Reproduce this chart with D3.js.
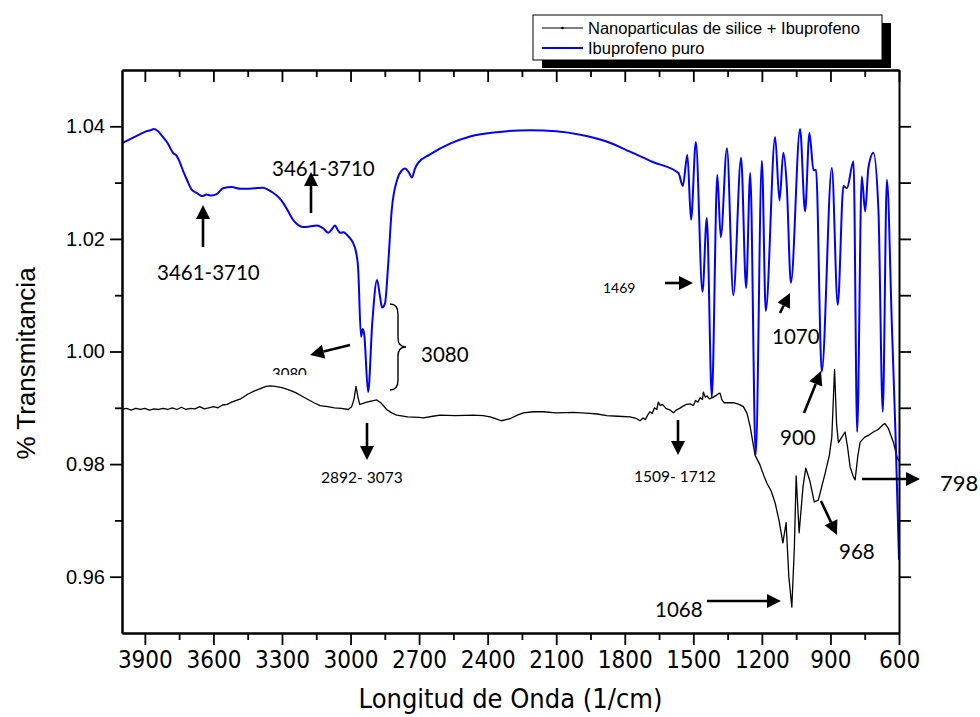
<!DOCTYPE html>
<html>
<head>
<meta charset="utf-8">
<script src="https://cdn.jsdelivr.net/npm/d3@7"></script>
<style>
  body { margin: 0; background: #fff; }
  svg { display: block; }
</style>
</head>
<body>
<svg id="chart" width="980" height="717"></svg>
<script>
// FTIR spectra: [wavenumber (1/cm), transmittance]
const blueSpectrum = [
  [4000,1.0370],[3960,1.0378],[3920,1.0386],[3895,1.0391],[3875,1.0393],[3860,1.0395],[3845,1.0392],
  [3821,1.0381],[3800,1.0370],[3777,1.0353],[3760,1.0347],[3746,1.0335],[3730,1.0318],[3716,1.0305],
  [3694,1.0287],[3670,1.0281],[3650,1.0276],[3630,1.0279],[3610,1.0277],[3584,1.0280],[3558,1.0290],
  [3520,1.0292],[3480,1.0289],[3453,1.0289],[3420,1.0290],[3383,1.0291],[3360,1.0287],[3339,1.0282],
  [3310,1.0272],[3295,1.0264],[3270,1.0247],[3252,1.0234],[3230,1.0225],[3208,1.0221],[3180,1.0222],
  [3147,1.0224],[3120,1.0219],[3098,1.0211],[3080,1.0218],[3068,1.0224],[3055,1.0215],[3046,1.0211],
  [3030,1.0212],[3015,1.0207],[3000,1.0200],[2989,1.0193],[2975,1.0175],[2967,1.0150],[2954,1.0026],
  [2947,1.0040],[2940,1.0030],[2923,0.9928],[2905,1.0050],[2884,1.0127],[2870,1.0095],[2862,1.0078],
  [2849,1.0086],[2836,1.0150],[2820,1.0250],[2796,1.0305],[2775,1.0322],[2761,1.0325],[2745,1.0318],
  [2731,1.0309],[2718,1.0325],[2704,1.0335],[2652,1.0350],[2560,1.0370],[2477,1.0382],[2350,1.0390],
  [2214,1.0393],[2100,1.0391],[1995,1.0385],[1880,1.0373],[1777,1.0355],[1680,1.0337],[1565,1.0317],
  [1546,1.0294],[1526,1.0349],[1510,1.0234],[1489,1.0372],[1460,1.0106],[1441,1.0237],[1419,0.9919],
  [1395,1.0314],[1380,1.0203],[1353,1.0361],[1325,1.0100],[1291,1.0344],[1269,1.0113],[1251,1.0317],
  [1227,0.9816],[1200,1.0339],[1183,1.0072],[1142,1.0381],[1123,1.0268],[1106,1.0353],[1091,1.0294],
  [1073,1.0122],[1033,1.0395],[1011,1.0249],[992,1.0388],[974,1.0322],[963,1.0323],[938,0.9964],
  [894,1.0326],[868,1.0083],[843,1.0294],[828,1.0290],[799,1.0338],[783,0.9857],[763,1.0311],
  [748,1.0249],[734,1.0326],[712,1.0353],[690,1.0251],[671,0.9893],[653,1.0305],[631,1.0044],
  [615,0.9850],[600,0.9630]
];

const blackSpectrum = [
  [4000,0.9897],[3980,0.9899],[3960,0.9896],[3940,0.9899],[3920,0.9897],[3900,0.9899],[3880,0.9896],
  [3860,0.9898],[3840,0.9897],[3820,0.9899],[3800,0.9897],[3780,0.9900],[3760,0.9897],[3740,0.9901],
  [3720,0.9897],[3700,0.9899],[3680,0.9898],[3660,0.9902],[3640,0.9898],[3620,0.9900],[3600,0.9902],
  [3580,0.9900],[3560,0.9905],[3540,0.9906],[3520,0.9910],[3500,0.9913],[3480,0.9916],[3450,0.9924],
  [3420,0.9930],[3400,0.9933],[3370,0.9938],[3352,0.9939],[3330,0.9938],[3300,0.9936],[3270,0.9932],
  [3240,0.9927],[3210,0.9920],[3192,0.9916],[3160,0.9909],[3133,0.9904],[3100,0.9902],[3070,0.9900],
  [3040,0.9899],[3010,0.9897],[2995,0.9902],[2985,0.9915],[2976,0.9938],[2968,0.9920],[2960,0.9906],
  [2945,0.9908],[2929,0.9910],[2910,0.9912],[2885,0.9914],[2865,0.9908],[2842,0.9897],[2820,0.9891],
  [2798,0.9887],[2750,0.9884],[2700,0.9883],[2681,0.9882],[2640,0.9885],[2608,0.9887],[2540,0.9886],
  [2462,0.9887],[2420,0.9886],[2389,0.9884],[2360,0.9880],[2340,0.9877],[2320,0.9879],[2300,0.9881],
  [2270,0.9887],[2244,0.9891],[2200,0.9893],[2156,0.9893],[2100,0.9891],[2025,0.9892],[1990,0.9891],
  [1952,0.9890],[1920,0.9889],[1879,0.9886],[1830,0.9885],[1777,0.9884],[1750,0.9881],[1733,0.9877],
  [1720,0.9882],[1710,0.9879],[1700,0.9887],[1690,0.9893],[1680,0.9890],[1670,0.9900],[1660,0.9897],
  [1653,0.9910],[1645,0.9904],[1635,0.9906],[1620,0.9899],[1602,0.9896],[1587,0.9891],[1575,0.9896],
  [1560,0.9899],[1545,0.9903],[1530,0.9906],[1514,0.9907],[1500,0.9904],[1490,0.9913],[1480,0.9910],
  [1470,0.9918],[1460,0.9915],[1456,0.9928],[1448,0.9919],[1440,0.9921],[1430,0.9916],[1412,0.9919],
  [1400,0.9922],[1390,0.9925],[1383,0.9926],[1375,0.9914],[1365,0.9909],[1353,0.9909],[1325,0.9909],
  [1300,0.9906],[1281,0.9902],[1265,0.9890],[1251,0.9866],[1230,0.9816],[1210,0.9800],[1190,0.9778],
  [1178,0.9766],[1160,0.9753],[1142,0.9731],[1125,0.9700],[1108,0.9660],[1094,0.9696],[1082,0.9600],
  [1069,0.9546],[1058,0.9650],[1050,0.9779],[1037,0.9678],[1020,0.9760],[1008,0.9793],[990,0.9770],
  [971,0.9733],[953,0.9736],[938,0.9760],[923,0.9784],[905,0.9815],[894,0.9848],[882,0.9968],
  [873,0.9870],[865,0.9838],[850,0.9848],[836,0.9857],[825,0.9830],[814,0.9795],[800,0.9778],
  [792,0.9772],[780,0.9815],[770,0.9839],[750,0.9848],[730,0.9852],[712,0.9857],[690,0.9862],
  [670,0.9870],[661,0.9872],[645,0.9862],[624,0.9838],[609,0.9813],[600,0.9805]
];

const xTicks = [3900,3600,3300,3000,2700,2400,2100,1800,1500,1200,900,600];
const xMinorTicks = [3750,3450,3150,2850,2550,2250,1950,1650,1350,1050,750];
const yTicks = [0.96,0.98,1.00,1.02,1.04];
const yMinorTicks = [0.97,0.99,1.01,1.03];
const yRightTicks = [0.96,0.97,0.98,0.99,1.00,1.01,1.02,1.03,1.04];
const seriesNames = ["Nanoparticulas de silice + Ibuprofeno", "Ibuprofeno puro"];

// annotations (pixel layout of the hand-placed call-outs)
const arrows = [
  [203,247,203,205], [311,213,311,172], [350,345,310,355], [367,423,367,460],
  [678,420,678,455], [665,283,693,283], [780,313,790,293], [804,413,821,371],
  [821,501,837,535], [862,479,920,479], [707,601,781,601]
];
const notes = [
  {t:"3461-3710", x:157, y:280, s:20.5},
  {t:"3461-3710", x:272, y:176, s:20.5},
  {t:"3080", x:421, y:362, s:20.5},
  {t:"2892- 3073", x:321, y:483, s:15.5},
  {t:"1509- 1712", x:634, y:482, s:15.5},
  {t:"1469", x:603, y:293, s:14},
  {t:"1070", x:772, y:344, s:20.5},
  {t:"900", x:780, y:445, s:20.5},
  {t:"968", x:839, y:559, s:20.5},
  {t:"798", x:940, y:491, s:22},
  {t:"1068", x:655, y:617, s:20.5}
];

const svg = d3.select("#chart");
const width = 980, height = 717;
const plot = { left: 122, right: 899, top: 70, bottom: 633 };

const x = d3.scaleLinear().domain([4000, 600]).range([plot.left, plot.right]);
const y = d3.scaleLinear().domain([0.95, 1.05]).range([plot.bottom, plot.top]);

svg.append("rect").attr("width", width).attr("height", height).attr("fill", "#fff");

svg.append("defs").append("clipPath").attr("id", "plotClip")
  .append("rect")
  .attr("x", plot.left).attr("y", plot.top)
  .attr("width", plot.right - plot.left).attr("height", plot.bottom - plot.top);

const axisFont = "'Liberation Sans', Arial, sans-serif";
const narrowFont = "'Liberation Sans Narrow', 'Arial Narrow', 'DejaVu Sans Condensed', sans-serif";

// spectra
const lineLinear = d3.line().x(d => x(d[0])).y(d => y(d[1]));
const lineSmooth = d3.line().x(d => x(d[0])).y(d => y(d[1])).curve(d3.curveMonotoneX);

const curves = svg.append("g").attr("clip-path", "url(#plotClip)");
curves.append("path")
  .datum(blackSpectrum)
  .attr("d", lineLinear)
  .attr("fill", "none")
  .attr("stroke", "#000")
  .attr("stroke-width", 1.3)
  .attr("stroke-linejoin", "round");
curves.append("path")
  .datum(blueSpectrum)
  .attr("d", lineSmooth)
  .attr("fill", "none")
  .attr("stroke", "#0000ff")
  .attr("stroke-width", 2)
  .attr("stroke-linejoin", "round");

// axes
function styleAxis(g) {
  g.select(".domain").attr("stroke-width", 2);
  g.selectAll(".tick line").attr("stroke-width", 1.8);
  g.selectAll("text").attr("font-family", axisFont).attr("fill", "#000");
}

svg.append("g")
  .attr("transform", `translate(0,${plot.bottom})`)
  .call(d3.axisBottom(x).tickValues(xMinorTicks).tickSize(7).tickSizeOuter(0).tickFormat(""))
  .call(styleAxis);
svg.append("g")
  .attr("transform", `translate(0,${plot.bottom})`)
  .call(d3.axisBottom(x).tickValues(xTicks).tickSize(12).tickSizeOuter(0).tickPadding(6).tickFormat(d3.format("d")))
  .call(styleAxis)
  .call(g => g.selectAll("text").attr("font-family", narrowFont).attr("font-size", 24));

svg.append("g")
  .attr("transform", `translate(0,${plot.top})`)
  .call(d3.axisTop(x).tickValues(xMinorTicks).tickSize(-7).tickSizeOuter(0).tickFormat(""))
  .call(styleAxis);
svg.append("g")
  .attr("transform", `translate(0,${plot.top})`)
  .call(d3.axisTop(x).tickValues(xTicks).tickSize(-12).tickSizeOuter(0).tickFormat(""))
  .call(styleAxis);

svg.append("g")
  .attr("transform", `translate(${plot.left},0)`)
  .call(d3.axisLeft(y).tickValues(yMinorTicks).tickSize(7).tickSizeOuter(0).tickFormat(""))
  .call(styleAxis);
svg.append("g")
  .attr("transform", `translate(${plot.left},0)`)
  .call(d3.axisLeft(y).tickValues(yTicks).tickSize(12).tickSizeOuter(0).tickPadding(5).tickFormat(d3.format(".2f")))
  .call(styleAxis)
  .call(g => g.selectAll("text").attr("font-size", 20));

svg.append("g")
  .attr("transform", `translate(${plot.right},0)`)
  .call(d3.axisRight(y).tickValues(yRightTicks).tickSize(12).tickSizeOuter(0).tickFormat(""))
  .call(styleAxis);

// axis titles
svg.append("text")
  .attr("x", (plot.left + plot.right) / 2)
  .attr("y", 708)
  .attr("text-anchor", "middle")
  .attr("font-family", narrowFont)
  .attr("font-size", 27)
  .text("Longitud de Onda (1/cm)");

svg.append("text")
  .attr("transform", `translate(35,${(plot.top + plot.bottom) / 2 + 12}) rotate(-90)`)
  .attr("text-anchor", "middle")
  .attr("font-family", axisFont)
  .attr("font-size", 26)
  .text("% Transmitancia");

// legend
const legend = svg.append("g");
legend.append("rect").attr("x", 542).attr("y", 23).attr("width", 349).attr("height", 45).attr("fill", "#000");
legend.append("rect").attr("x", 533).attr("y", 15).attr("width", 349).attr("height", 45)
  .attr("fill", "#fff").attr("stroke", "#000").attr("stroke-width", 1);
const legendColors = ["#000", "#0000ff"];
seriesNames.forEach((name, i) => {
  const ly = 28 + i * 20;
  legend.append("line")
    .attr("x1", 542).attr("x2", 583).attr("y1", ly).attr("y2", ly)
    .attr("stroke", legendColors[i]).attr("stroke-width", i === 0 ? 1.2 : 2);
  if (i === 0) {
    legend.append("circle").attr("cx", 562.5).attr("cy", ly).attr("r", 1.3).attr("fill", "#000");
  }
  legend.append("text")
    .attr("x", 588).attr("y", ly + 6)
    .attr("font-family", axisFont)
    .attr("font-size", 16.5)
    .text(name);
});

// annotations
const noteFont = "Lato, 'Open Sans', sans-serif";
const ann = svg.append("g");

arrows.forEach(([x1, y1, x2, y2]) => {
  const ang = Math.atan2(y2 - y1, x2 - x1);
  const hl = 14, hw = 7;
  const bx = x2 - hl * Math.cos(ang), by = y2 - hl * Math.sin(ang);
  ann.append("line")
    .attr("x1", x1).attr("y1", y1).attr("x2", bx).attr("y2", by)
    .attr("stroke", "#000").attr("stroke-width", 2.6);
  const px = -Math.sin(ang) * hw, py = Math.cos(ang) * hw;
  ann.append("path")
    .attr("d", `M${x2},${y2}L${bx + px},${by + py}L${bx - px},${by - py}Z`)
    .attr("fill", "#000");
});

notes.forEach(n => {
  ann.append("text")
    .attr("x", n.x).attr("y", n.y)
    .attr("font-family", noteFont)
    .attr("font-size", n.s)
    .attr("fill", "#000")
    .text(n.t);
});

// half-hidden "3080" under the left arrow
svg.select("defs").append("clipPath").attr("id", "cutLabel")
  .append("rect").attr("x", 255).attr("y", 355).attr("width", 70).attr("height", 20);
ann.append("text")
  .attr("x", 272).attr("y", 379)
  .attr("clip-path", "url(#cutLabel)")
  .attr("font-family", noteFont)
  .attr("font-size", 15)
  .text("3080");

// curly brace beside the 3080 band
ann.append("path")
  .attr("d", "M390,304 Q398,304 398,314 L398,338 Q398,347 406,347 Q398,347 398,356 L398,380 Q398,390 390,390")
  .attr("fill", "none")
  .attr("stroke", "#000")
  .attr("stroke-width", 1.4);
</script>
</body>
</html>
